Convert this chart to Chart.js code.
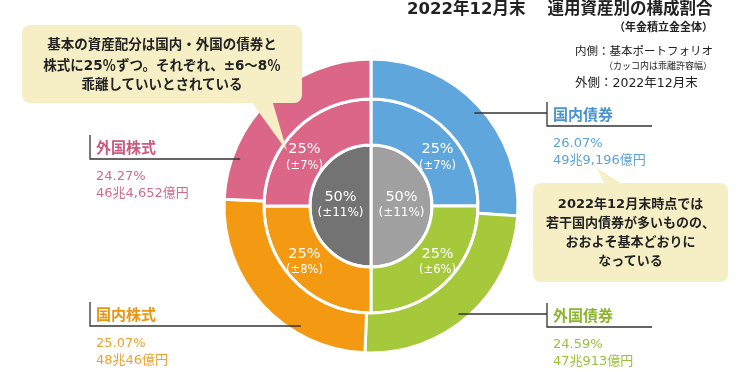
<!DOCTYPE html>
<html lang="ja">
<head>
<meta charset="utf-8">
<script src="https://cdn.jsdelivr.net/npm/chart.js@4.4.1/dist/chart.umd.min.js"></script>
<style>
	html, body { margin: 0; padding: 0; background: #fff; }
	body { width: 750px; height: 372px; position: relative; overflow: hidden; font-family: "DejaVu Sans", "Noto Sans CJK JP", sans-serif; color: #222; }
	#chart { position: absolute; left: 0; top: 0; }
	.txt { position: absolute; white-space: nowrap; line-height: 1; }
	.title { font-size: 16.5px; font-weight: bold; }
	.bubble { position: absolute; text-align: center; font-weight: bold; white-space: nowrap; }
	.cjk { font-family: "Noto Sans CJK JP"; }
	.cat { position: absolute; white-space: nowrap; }
	.cat .name { font-size: 15px; font-weight: bold; line-height: 24px; font-family: "Noto Sans CJK JP"; }
	.cat .val { font-size: 13px; line-height: 17px; }
</style>
</head>
<body>
<canvas id="chart" width="750" height="372"></canvas>

<div class="txt title" style="left:407px; top:1px;">2022年12月末<span style="margin-left:22px;">運用資産別の構成割合</span></div>
<div class="txt" style="right:37px; top:22px; font-size:11px; font-weight:bold;">（年金積立金全体）</div>
<div class="txt" style="left:575px; top:46px; font-size:11.5px;">内側：基本ポートフォリオ</div>
<div class="txt" style="right:38px; top:62px; font-size:9px;">（カッコ内は乖離許容幅）</div>
<div class="txt" style="left:575px; top:77px; font-size:12.5px;">外側：2022年12月末</div>

<div class="bubble" style="left:22px; top:35px; width:280px; font-size:13.5px; line-height:19.5px;">基本の資産配分は国内・外国の債券と<br>株式に25<span class="cjk">％</span>ずつ。それぞれ、±6<span class="cjk">～</span>8<span class="cjk">％</span><br>乖離していいとされている</div>
<div class="bubble" style="left:533px; top:194px; width:195px; font-size:13px; line-height:19px;">2022年12月末時点では<br>若干国内債券が多いものの、<br>おおよそ基本どおりに<br>なっている</div>

<div id="labels"></div>

<script>
const categories = ["国内債券", "外国債券", "国内株式", "外国株式"];
const actualShares = [26.07, 24.59, 25.07, 24.27];
const actualAmounts = ["49兆9,196億円", "47兆913億円", "48兆46億円", "46兆4,652億円"];
const basicShares = [25, 25, 25, 25];
const basicRanges = [7, 6, 8, 7];
const halfNames = ["債券", "株式"];
const halfShares = [50, 50];
const halfRanges = [11, 11];

const colors = ["#5fa6dc", "#a6c83b", "#f39a12", "#db6688"];
const grays = ["#a0a0a0", "#737373"];
const titleColors = ["#4a93cc", "#8cb52e", "#e8960f", "#c9597f"];
const valueColors = ["#5ca3d7", "#98c23a", "#eca22e", "#d06a8c"];

// label blocks: bar x, bar top, underline end (right side only), side
const blocks = [
	{ x: 547, top: 102, end: 652, side: "right" },
	{ x: 547, top: 303, end: 652, side: "right" },
	{ x: 90, top: 302, side: "left" },
	{ x: 90, top: 135, side: "left" },
];

const labelsDiv = document.getElementById("labels");
categories.forEach((name, i) => {
	const b = blocks[i];
	const el = document.createElement("div");
	el.className = "cat";
	el.style.left = b.x + 6 + "px";
	el.style.top = b.top + "px";
	el.innerHTML =
		`<div class="name" style="color:${titleColors[i]}">${name}</div>` +
		`<div class="val" style="color:${valueColors[i]};margin-top:8px">${actualShares[i].toFixed(2)}%</div>` +
		`<div class="val" style="color:${valueColors[i]}">${actualAmounts[i]}</div>`;
	labelsDiv.appendChild(el);
});

const extras = {
	id: "extras",
	afterDraw(chart) {
		const ctx = chart.ctx;
		const arc0 = chart.getDatasetMeta(0).data[0];
		const cx = arc0.x;
		const cy = arc0.y;
		const r = arc0.outerRadius - 8;

		// leader lines
		ctx.save();
		ctx.strokeStyle = "#333";
		ctx.lineWidth = 1.3;
		blocks.forEach((b) => {
			const bottom = b.top + 24;
			ctx.beginPath();
			if (b.side === "right") {
				const y = b.top + 11;
				const sx = cx + Math.sqrt(r * r - (y - cy) * (y - cy));
				ctx.moveTo(sx, y);
				ctx.lineTo(b.x, y);
				ctx.moveTo(b.x, b.top);
				ctx.lineTo(b.x, bottom);
				ctx.lineTo(b.end, bottom);
			} else {
				const sx = cx - Math.sqrt(r * r - (bottom - cy) * (bottom - cy));
				ctx.moveTo(b.x, b.top);
				ctx.lineTo(b.x, bottom);
				ctx.lineTo(sx, bottom);
			}
			ctx.stroke();
		});
		ctx.restore();

		// speech bubbles
		ctx.save();
		ctx.fillStyle = "#f6efc6";
		ctx.beginPath();
		ctx.roundRect(22, 25, 280, 78, 8);
		ctx.fill();
		ctx.beginPath();
		ctx.moveTo(250, 100);
		ctx.lineTo(272, 100);
		ctx.lineTo(287, 151);
		ctx.closePath();
		ctx.fill();
		ctx.beginPath();
		ctx.roundRect(533, 183, 195, 99, 8);
		ctx.fill();
		ctx.beginPath();
		ctx.moveTo(605, 186);
		ctx.lineTo(625, 186);
		ctx.lineTo(597, 168);
		ctx.closePath();
		ctx.fill();
		ctx.restore();
	},
	afterDatasetsDraw(chart) {
		const ctx = chart.ctx;
		ctx.save();
		ctx.fillStyle = "#fff";
		ctx.textAlign = "center";
		ctx.textBaseline = "middle";
		chart.getDatasetMeta(1).data.forEach((arc, i) => {
			// place a bit closer to the horizontal than the arc centre
			const a = (arc.startAngle + arc.endAngle) / 2;
			const mr = (arc.innerRadius + arc.outerRadius) / 2;
			const x = arc.x + Math.cos(a) * mr * 1.12;
			const y = arc.y + Math.sin(a) * mr * 0.88;
			ctx.font = "14.5px 'DejaVu Sans'";
			ctx.fillText(basicShares[i] + "%", x, y - 4);
			ctx.font = "11.5px 'DejaVu Sans'";
			ctx.fillText("(±" + basicRanges[i] + "%)", x, y + 12);
		});
		chart.getDatasetMeta(2).data.forEach((arc, i) => {
			const p = arc.getCenterPoint();
			ctx.font = "14.5px 'DejaVu Sans'";
			ctx.fillText(halfShares[i] + "%", p.x, p.y - 9);
			ctx.font = "12px 'DejaVu Sans'";
			ctx.fillText("(±" + halfRanges[i] + "%)", p.x, p.y + 7);
		});
		ctx.restore();
	},
};

new Chart(document.getElementById("chart"), {
	type: "doughnut",
	data: {
		labels: categories,
		datasets: [
			{
				label: "2022年12月末",
				data: actualShares,
				backgroundColor: colors,
				borderColor: "#fff",
				borderWidth: 3,
				weight: 40,
			},
			{
				label: "基本ポートフォリオ",
				data: basicShares,
				backgroundColor: colors,
				borderColor: "#fff",
				borderWidth: 3,
				weight: 46,
			},
			{
				label: "債券・株式",
				data: halfShares,
				backgroundColor: grays,
				borderColor: "#fff",
				borderWidth: 3,
				weight: 61,
			},
		],
	},
	plugins: [extras],
	options: {
		responsive: false,
		animation: false,
		cutout: 0,
		radius: 147,
		layout: {
			padding: { left: 221, right: 229, top: 56, bottom: 16 },
		},
		plugins: {
			legend: { display: false },
			tooltip: { enabled: false },
		},
	},
});
</script>
</body>
</html>
